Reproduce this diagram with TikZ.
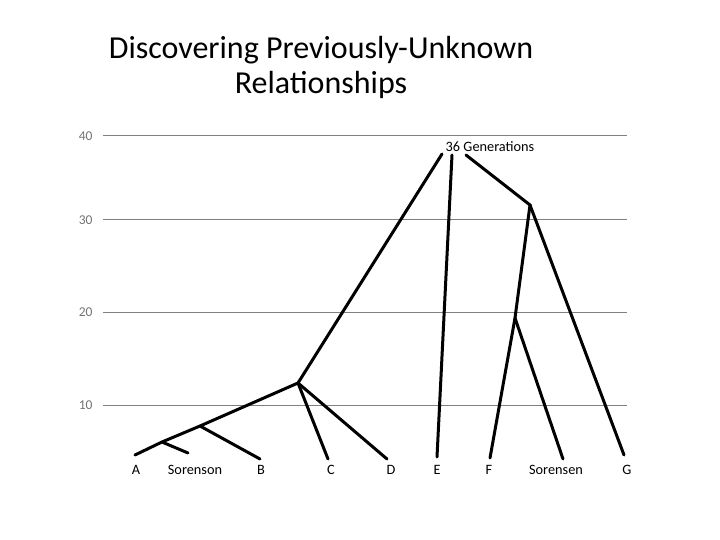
\documentclass[tikz,border=0pt]{standalone}
\usepackage{fontspec}
\setmainfont{Carlito}
\begin{document}
\begin{tikzpicture}[x=1pt,y=-1pt,
  grid/.style={draw=black!50, line width=1pt},
  axlab/.style={text=black!55, font=\fontsize{13.5}{15}\selectfont, anchor=east},
  leaflab/.style={font=\fontsize{14.3}{16}\selectfont},
  branch/.style={draw=black, line width=3pt, line cap=round}]
\useasboundingbox (0,0) rectangle (720,540);
% title
\node[font=\fontsize{32}{35}\selectfont, align=center] (title) at (321,67) {Discovering Previously-Unknown\\Relationships};
% grid
\foreach \v/\yy in {40/136,30/220,20/312,10/405}{
  \draw[grid] (103,\yy) -- (627,\yy);
  \node[axlab] (ax\v) at (96,\yy) {\v};
}
\node[leaflab] (gen) at (490,147) {36 Generations};
% tree points
\coordinate (a) at (135,455);
\coordinate (j1) at (162,442);
\coordinate (so) at (188,453);
\coordinate (j2) at (200,426);
\coordinate (b) at (260,459);
\coordinate (j3) at (298,383);
\coordinate (c) at (328,459);
\coordinate (d) at (387,459);
\coordinate (t1) at (442,154);
\coordinate (t2) at (452,155);
\coordinate (e) at (437,457);
\coordinate (t3) at (466,155);
\coordinate (j4) at (530,205);
\coordinate (j5) at (515,318);
\coordinate (f) at (490,458);
\coordinate (se) at (563,459);
\coordinate (g) at (624,455);
% branches
\draw[branch] (a) -- (j1) -- (j2) -- (j3) -- (t1);
\draw[branch] (j1) -- (so);
\draw[branch] (j2) -- (b);
\draw[branch] (j3) -- (c);
\draw[branch] (j3) -- (d);
\draw[branch] (t2) -- (e);
\draw[branch] (t3) -- (j4) -- (j5) -- (f);
\draw[branch] (j5) -- (se);
\draw[branch] (j4) -- (g);
% leaf labels
\node[leaflab] (la) at (136,470) {A};
\node[leaflab] (lso) at (195,470) {Sorenson};
\node[leaflab] (lb) at (261,470) {B};
\node[leaflab] (lc) at (331,470) {C};
\node[leaflab] (ld) at (391,470) {D};
\node[leaflab] (le) at (437,470) {E};
\node[leaflab] (lf) at (489,470) {F};
\node[leaflab] (lse) at (556,470) {Sorensen};
\node[leaflab] (lg) at (627,470) {G};
\end{tikzpicture}
\end{document}
